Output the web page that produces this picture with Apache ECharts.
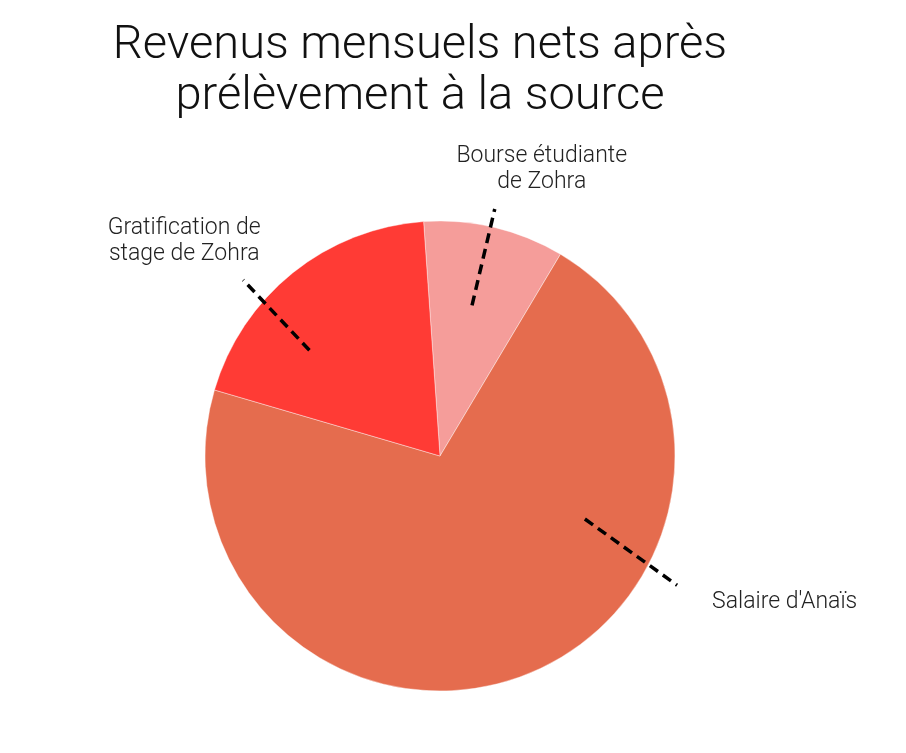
<!DOCTYPE html>
<html>
<head>
<meta charset="utf-8">
<script src="https://cdn.jsdelivr.net/npm/echarts@6/dist/echarts.min.js"></script>
<style>
  html, body { margin: 0; padding: 0; background: #fff; }
  #main { width: 906px; height: 753px; }
</style>
</head>
<body>
<div id="main"></div>
<script>
const categories = ['Bourse étudiante\nde Zohra', "Salaire d'Anaïs", 'Gratification de\nstage de Zohra'];
const values = [300, 2200, 600];
const colors = ['#f59d9a', '#e56c4e', '#ff3b35'];

// pie geometry and leader lines (angle clockwise from 12 o'clock, radius in px)
const cx = 440, cy = 456, radius = 235;
const leaders = [[12, 154, 12.5, 253], [113.5, 158, 118.6, 270], [309, 168, 311.8, 264]];
const labelOffsets = [[47, -40, 'center'], [35, 17, 'left'], [-59, -39, 'center']];

const polar = (deg, r) => {
    const a = deg * Math.PI / 180;
    return [cx + r * Math.sin(a), cy - r * Math.cos(a)];
};

const pieData = categories.map((name, i) => ({
    name: name,
    value: values[i],
    itemStyle: { color: colors[i] }
}));

const chart = echarts.init(document.getElementById('main'));

const option = {
    animation: false,
    title: {
        text: 'Revenus mensuels nets après\nprélèvement à la source',
        left: 420,
        top: 21,
        padding: 0,
        textAlign: 'center',
        textStyle: {
            fontFamily: 'Roboto',
            fontWeight: 300,
            fontSize: 47,
            lineHeight: 51,
            color: '#111'
        }
    },
    series: [
        {
            // the slices
            type: 'pie',
            z: 2,
            center: [cx, cy],
            radius: radius,
            startAngle: 94,
            silent: true,
            emphasis: { disabled: true },
            itemStyle: {
                borderColor: 'rgba(255,255,255,0.5)',
                borderWidth: 0.8
            },
            label: { show: false },
            labelLine: { show: false },
            data: pieData
        },
        {
            // same data again, invisible, only for labels and dashed leaders on top
            type: 'pie',
            z: 5,
            center: [cx, cy],
            radius: radius,
            startAngle: 94,
            silent: true,
            avoidLabelOverlap: false,
            emphasis: { disabled: true },
            itemStyle: { color: 'rgba(0,0,0,0)', borderWidth: 0 },
            label: {
                show: true,
                position: 'outside',
                formatter: '{b}',
                fontFamily: 'Roboto',
                fontWeight: 300,
                fontSize: 23,
                lineHeight: 26,
                color: '#222'
            },
            labelLine: {
                show: true,
                lineStyle: {
                    color: '#000',
                    width: 3.5,
                    type: [10, 6]
                }
            },
            labelLayout: (p) => {
                const [a0, r0, a1, r1] = leaders[p.dataIndex];
                const s = polar(a0, r0), e = polar(a1, r1);
                const [dx, dy, align] = labelOffsets[p.dataIndex];
                return {
                    x: e[0] + dx,
                    y: e[1] + dy,
                    align: align,
                    verticalAlign: 'middle',
                    labelLinePoints: [s, e]
                };
            },
            data: categories.map((name, i) => ({ name: name, value: values[i] }))
        }
    ]
};

chart.setOption(option);
</script>
</body>
</html>
